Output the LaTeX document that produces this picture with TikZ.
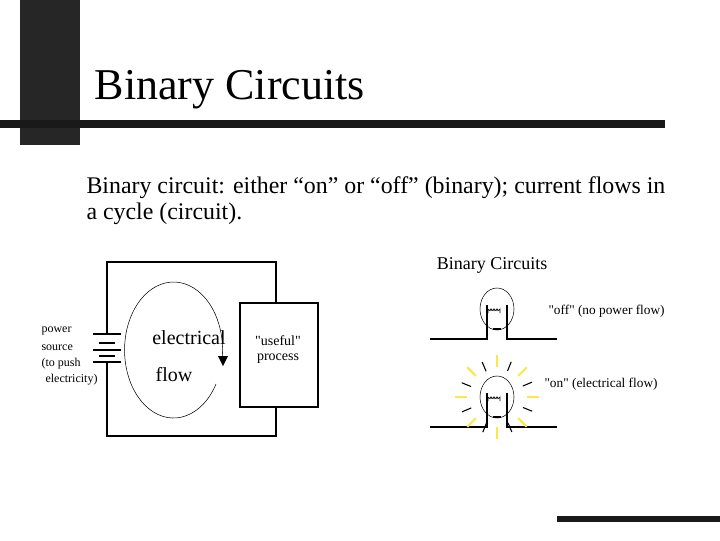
\documentclass[tikz,border=0pt]{standalone}
\usepackage{fontspec}
\setmainfont{Liberation Serif}
\newfontfamily\plainfont{Liberation Serif}
\begin{document}
\begin{tikzpicture}[x=0.75pt, y=-0.75pt, line width=0.8pt]
\tikzset{wire/.style={line width=0.9pt}, ray/.style={line width=0.8pt},
  glow/.style={line width=1.6pt, yellow!80!orange!70}}
\useasboundingbox (0,0) rectangle (720,540);
% slide decoration
\fill[gray!30!black] (20,0) rectangle (80,145);
\fill[gray!20!black] (0,120) rectangle (665,128);
\fill[gray!20!black] (557,516) rectangle (720,522);
\node[anchor=base west, font=\fontsize{33}{38}\selectfont, fill=white, inner sep=1pt] (title) at (93,99) {Binary Circuits};
\node[anchor=base west, font=\fontsize{17.9}{21}\selectfont, inner sep=0pt] (line1) at (86,193) {Binary circuit: either “on” or “off” (binary); current flows in};
\node[anchor=base west, font=\fontsize{17.9}{21}\selectfont, inner sep=0pt] (line2) at (86,219) {a cycle (circuit).};
% left circuit
\draw[wire] (107,334)--(107,262)--(276,262)--(276,303);
\draw[wire] (107,362)--(107,436)--(276,436)--(276,407);
\node[draw, wire, minimum width=58.5pt, minimum height=78pt, inner sep=0pt] (proc) at (279,355) {};
\foreach \y/\l in {334/14,343/8,350/14,356/8,362/14}
  \draw[wire] (107-\l,\y)--(107+\l,\y);
\draw[thin] (216,384) arc[start angle=30, end angle=366, x radius=49, y radius=68];
\coordinate (tip) at (223,366);
\fill[black] (tip) -- (218,356) -- (228,356) -- cycle;
\begin{scope}[font=\plainfont\fontsize{9}{11}\selectfont, inner sep=0pt]
\node[font=\plainfont\fontsize{15}{17}\selectfont] (elec) at (189,338) {electrical};
\node[font=\plainfont\fontsize{15}{17}\selectfont] (flow) at (174,375) {flow};
\node[anchor=west] (pow) at (41,331) {power};
\node[anchor=west] (src) at (41,348) {source};
\node[anchor=west] (push) at (41,364) {(to push};
\node[anchor=west] (ely) at (45,380) {electricity)};
\node[font=\plainfont\fontsize{10.5}{12}\selectfont] (use) at (278,341) {"useful"};
\node[font=\plainfont\fontsize{10.5}{12}\selectfont] (pr) at (278,359) {process};
\end{scope}
% right figure
\node[font=\fontsize{13.5}{16}\selectfont, inner sep=0pt] (bt) at (492,265) {Binary Circuits};
\foreach \cy/\nm in {339/off,427/on}{
  \draw[wire] (430,\cy)--(487,\cy)--(487,\cy-34);
  \draw[wire] (557,\cy)--(507,\cy)--(507,\cy-34);
  \draw[thin] (497,\cy-30) ellipse[x radius=17, y radius=21];
  \draw[thin] (488,\cy-26) -- (488,\cy-30) arc[start angle=180,end angle=0,radius=1.5]
     -- (491,\cy-28) -- (491,\cy-30) arc[start angle=180,end angle=0,radius=1.5]
     -- (494,\cy-28) -- (494,\cy-30) arc[start angle=180,end angle=0,radius=1.5]
     -- (497,\cy-28) -- (497,\cy-30) arc[start angle=180,end angle=0,radius=1.5] -- (500,\cy-26);
  \draw[line width=1.5pt] (493,\cy-10)--(501,\cy-10);
}
\foreach \a in {0,45,90,135,180,225,270,315}
  \draw[glow] (497,397) ++(\a:30) -- ++(\a:12);
\foreach \a in {22,67,112,157,202,247,292,337}
  \draw[ray] (497,397) ++(\a:28) -- ++(\a:10);
\begin{scope}[font=\plainfont\fontsize{10}{12}\selectfont, anchor=west, inner sep=0pt]
\node (off) at (548,311) {"off" (no power flow)};
\node (on) at (544,384) {"on" (electrical flow)};
\end{scope}
\end{tikzpicture}
\end{document}
